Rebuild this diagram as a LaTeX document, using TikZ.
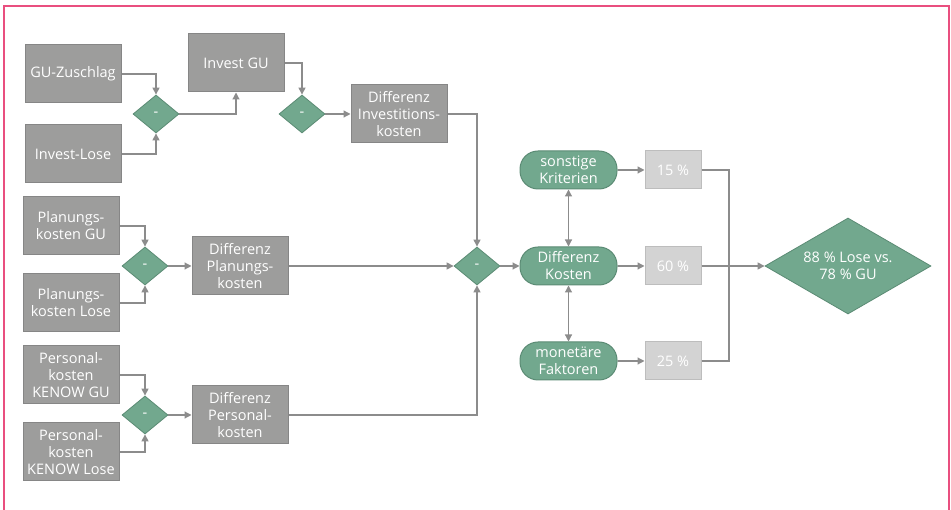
\documentclass[tikz,border=0pt]{standalone}
\usepackage{fontspec}
\setmainfont{Open Sans}
\usetikzlibrary{shapes.geometric,arrows.meta,calc}
\definecolor{boxgray}{HTML}{9D9D9C}
\definecolor{boxborder}{HTML}{868686}
\definecolor{grn}{HTML}{72A88E}
\definecolor{grnborder}{HTML}{5B8B74}
\definecolor{lgray}{HTML}{D3D3D3}
\definecolor{lgborder}{HTML}{BDBDBD}
\definecolor{linec}{HTML}{8C8C8C}
\definecolor{pink}{HTML}{E94F7F}
\begin{document}
\begin{tikzpicture}[x=1pt,y=-1pt,
  txt/.style={font=\fontsize{14.5}{17}\selectfont, text=white, align=center},
  graybox/.style={txt, draw=boxborder, fill=boxgray, line width=1pt, inner sep=0pt, minimum width=96pt, minimum height=58pt},
  gdia/.style={txt, diamond, draw=grnborder, fill=grn, line width=0.8pt, inner sep=0pt, minimum width=46pt, minimum height=38pt},
  rnode/.style={txt, draw=grnborder, fill=grn, line width=1pt, rounded corners=18pt, inner sep=0pt, minimum width=97pt, minimum height=38pt},
  pbox/.style={txt, draw=lgborder, fill=lgray, line width=1pt, inner sep=0pt, minimum width=56pt, minimum height=38pt},
  conn/.style={draw=linec, line width=1.2pt},
  arr/.style={conn, -{Triangle[length=7pt,width=7pt]}},
  darr/.style={conn, {Triangle[length=7pt,width=7pt]}-{Triangle[length=7pt,width=7pt]}}
]
\useasboundingbox (0,0) rectangle (951,510);
\draw[pink, line width=1.5pt] (4,512) -- (4,6) -- (949,6) -- (949,512);

% top group
\node[graybox] (gz) at (73,74) {GU-Zuschlag};
\node[graybox] (il) at (73,154) {Invest-Lose};
\node[gdia] (d1) at (156,114) {-};
\node[graybox] (ig) at (236,63) {Invest GU};
\node[gdia] (d2) at (302,114) {-};
\node[graybox] (di) at (399,114) {Differenz\\Investitions-\\kosten};

% planning group
\node[graybox] (pg) at (71,226) {Planungs-\\kosten GU};
\node[graybox] (pl) at (71,303) {Planungs-\\kosten Lose};
\node[gdia] (d4) at (145,266) {-};
\node[graybox] (dp) at (240,266) {Differenz\\Planungs-\\kosten};

% personnel group
\node[graybox] (kg) at (71,375) {Personal-\\kosten\\KENOW GU};
\node[graybox] (kl) at (71,452) {Personal-\\kosten\\KENOW Lose};
\node[gdia] (d5) at (145,415) {-};
\node[graybox] (dk) at (240,415) {Differenz\\Personal-\\kosten};

% central
\node[gdia] (d3) at (477,266) {-};
\node[rnode] (sk) at (568.5,170) {sonstige\\Kriterien};
\node[rnode] (dko) at (568.5,266) {Differenz\\Kosten};
\node[rnode] (mf) at (568.5,361) {monetäre\\Faktoren};
\node[pbox] (p15) at (673,170) {15 \%};
\node[pbox] (p60) at (673,266) {60 \%};
\node[pbox] (p25) at (673,361) {25 \%};
\coordinate (j) at (729,266);
\node[txt, diamond, draw=grnborder, fill=grn, line width=0.8pt, inner sep=0pt, shape aspect=1.73, minimum width=166pt, minimum height=96pt] (fd) at (848,266) {88 \% Lose vs.\\78 \% GU};

% connectors
\draw[arr] (gz.east) -| (d1.north);
\draw[arr] (il.east) -| (d1.south);
\draw[arr] (d1.east) -| (ig.south);
\draw[arr] (ig.east) -| (d2.north);
\draw[arr] (d2.east) -- (di.west);
\draw[arr] (di.east) -| (d3.north);

\draw[arr] (pg.east) -| (d4.north);
\draw[arr] (pl.east) -| (d4.south);
\draw[arr] (d4.east) -- (dp.west);
\draw[arr] (dp.east) -- (d3.west);

\draw[arr] (kg.east) -| (d5.north);
\draw[arr] (kl.east) -| (d5.south);
\draw[arr] (d5.east) -- (dk.west);
\draw[arr] (dk.east) -| (d3.south);

\draw[arr] (d3.east) -- (dko.west);
\draw[darr] (sk.south) -- (dko.north);
\draw[darr] (dko.south) -- (mf.north);
\draw[arr] (sk.east) -- (p15.west);
\draw[arr] (dko.east) -- (p60.west);
\draw[arr] (mf.east) -- (p25.west);
\draw[conn] (p15.east) -| (j);
\draw[conn] (p25.east) -| (j);
\draw[arr] (p60.east) -- (fd.west);
\end{tikzpicture}
\end{document}
